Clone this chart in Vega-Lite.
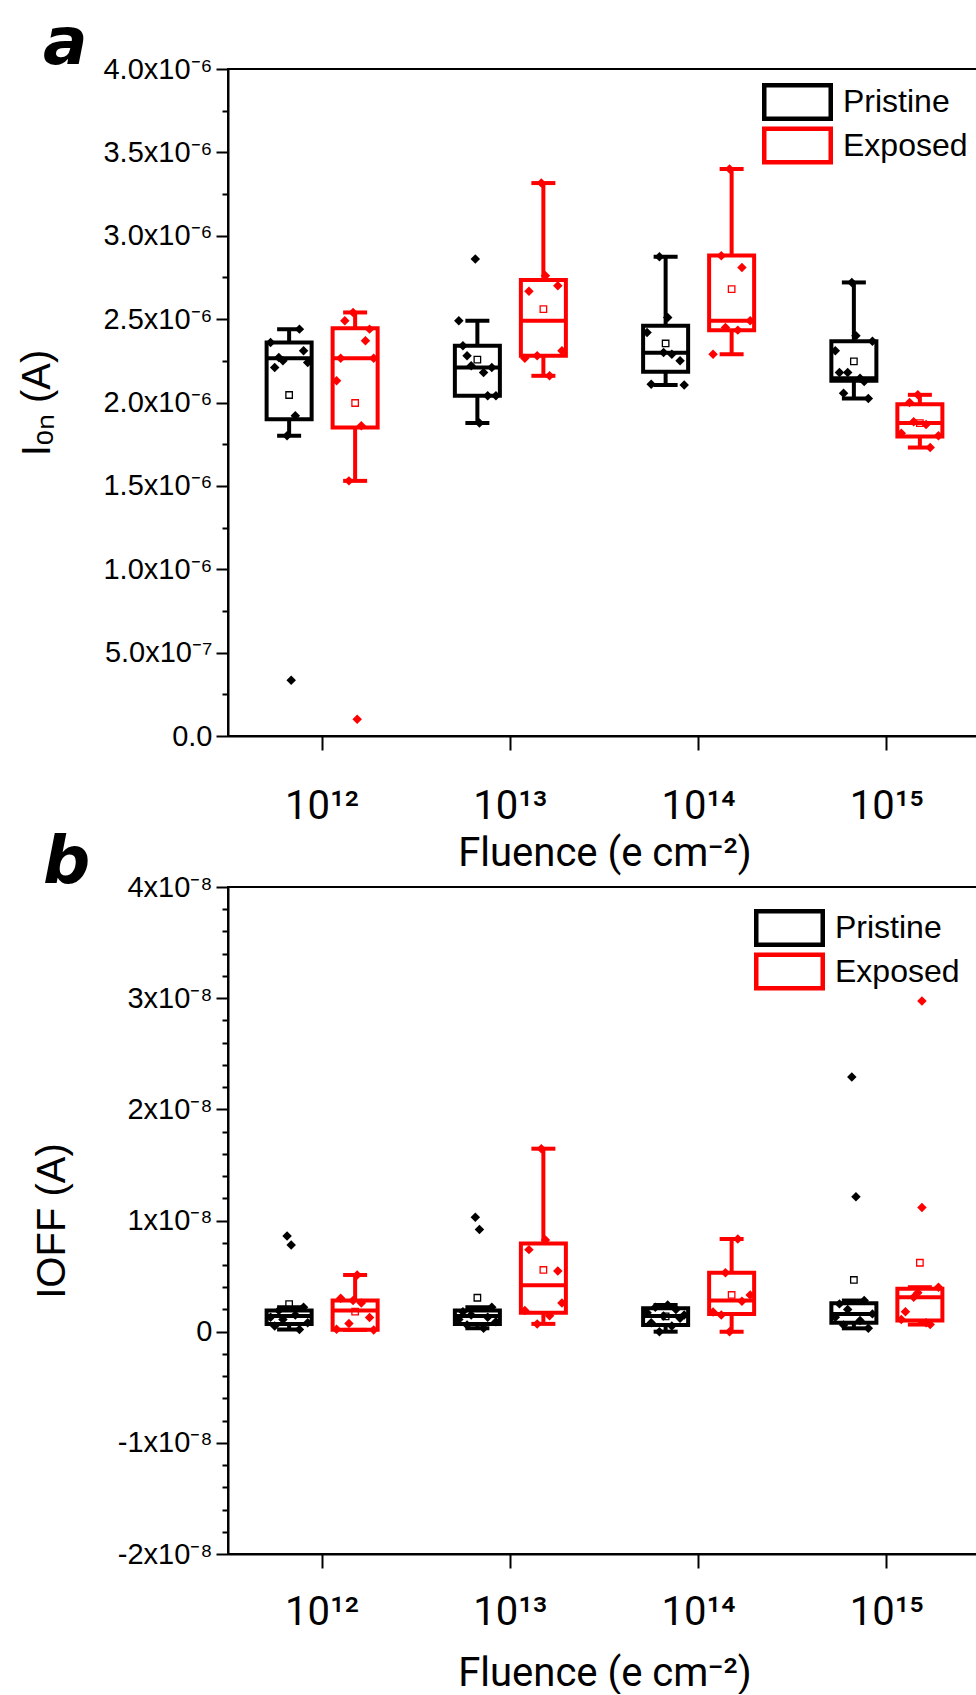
{
  "$schema": "https://vega.github.io/schema/vega-lite/v6.json",
  "background": "white",
  "padding": {"left": 16, "top": 10, "right": 0, "bottom": 0},
  "datasets": {
    "a_box": [
      {"fluence": "10¹²", "group": "Pristine", "lower": 1.80e-6, "q1": 1.90e-6, "median": 2.265e-6, "q3": 2.36e-6, "upper": 2.44e-6, "mean": 2.045e-6},
      {"fluence": "10¹²", "group": "Exposed", "lower": 1.53e-6, "q1": 1.85e-6, "median": 2.265e-6, "q3": 2.445e-6, "upper": 2.54e-6, "mean": 1.997e-6},
      {"fluence": "10¹³", "group": "Pristine", "lower": 1.877e-6, "q1": 2.04e-6, "median": 2.21e-6, "q3": 2.34e-6, "upper": 2.49e-6, "mean": 2.257e-6},
      {"fluence": "10¹³", "group": "Exposed", "lower": 2.16e-6, "q1": 2.28e-6, "median": 2.49e-6, "q3": 2.735e-6, "upper": 3.316e-6, "mean": 2.56e-6},
      {"fluence": "10¹⁴", "group": "Pristine", "lower": 2.105e-6, "q1": 2.185e-6, "median": 2.298e-6, "q3": 2.461e-6, "upper": 2.874e-6, "mean": 2.354e-6},
      {"fluence": "10¹⁴", "group": "Exposed", "lower": 2.29e-6, "q1": 2.434e-6, "median": 2.49e-6, "q3": 2.882e-6, "upper": 3.40e-6, "mean": 2.68e-6},
      {"fluence": "10¹⁵", "group": "Pristine", "lower": 2.024e-6, "q1": 2.13e-6, "median": 2.145e-6, "q3": 2.367e-6, "upper": 2.72e-6, "mean": 2.247e-6},
      {"fluence": "10¹⁵", "group": "Exposed", "lower": 1.73e-6, "q1": 1.796e-6, "median": 1.877e-6, "q3": 1.99e-6, "upper": 2.046e-6, "mean": 1.876e-6}
    ],
    "a_pts": [
      {"fluence": "10¹²", "group": "Pristine", "rep": 1, "value": 2.36e-6},
      {"fluence": "10¹²", "group": "Pristine", "rep": 2, "value": 2.21e-6},
      {"fluence": "10¹²", "group": "Pristine", "rep": 3, "value": 2.27e-6},
      {"fluence": "10¹²", "group": "Pristine", "rep": 4, "value": 2.25e-6},
      {"fluence": "10¹²", "group": "Pristine", "rep": 5, "value": 1.80e-6},
      {"fluence": "10¹²", "group": "Pristine", "rep": 6, "value": 0.335e-6},
      {"fluence": "10¹²", "group": "Pristine", "rep": 7, "value": 1.92e-6},
      {"fluence": "10¹²", "group": "Pristine", "rep": 8, "value": 2.44e-6},
      {"fluence": "10¹²", "group": "Pristine", "rep": 9, "value": 2.31e-6},
      {"fluence": "10¹²", "group": "Pristine", "rep": 10, "value": 2.24e-6},
      {"fluence": "10¹²", "group": "Exposed", "rep": 1, "value": 2.13e-6},
      {"fluence": "10¹²", "group": "Exposed", "rep": 2, "value": 2.265e-6},
      {"fluence": "10¹²", "group": "Exposed", "rep": 3, "value": 2.49e-6},
      {"fluence": "10¹²", "group": "Exposed", "rep": 4, "value": 1.53e-6},
      {"fluence": "10¹²", "group": "Exposed", "rep": 5, "value": 2.54e-6},
      {"fluence": "10¹²", "group": "Exposed", "rep": 6, "value": 0.10e-6},
      {"fluence": "10¹²", "group": "Exposed", "rep": 7, "value": 1.86e-6},
      {"fluence": "10¹²", "group": "Exposed", "rep": 8, "value": 2.37e-6},
      {"fluence": "10¹²", "group": "Exposed", "rep": 9, "value": 2.44e-6},
      {"fluence": "10¹²", "group": "Exposed", "rep": 10, "value": 2.265e-6},
      {"fluence": "10¹³", "group": "Pristine", "rep": 1, "value": 2.49e-6},
      {"fluence": "10¹³", "group": "Pristine", "rep": 2, "value": 2.34e-6},
      {"fluence": "10¹³", "group": "Pristine", "rep": 3, "value": 2.28e-6},
      {"fluence": "10¹³", "group": "Pristine", "rep": 4, "value": 2.22e-6},
      {"fluence": "10¹³", "group": "Pristine", "rep": 5, "value": 2.86e-6},
      {"fluence": "10¹³", "group": "Pristine", "rep": 6, "value": 1.877e-6},
      {"fluence": "10¹³", "group": "Pristine", "rep": 7, "value": 2.18e-6},
      {"fluence": "10¹³", "group": "Pristine", "rep": 8, "value": 2.04e-6},
      {"fluence": "10¹³", "group": "Pristine", "rep": 9, "value": 2.21e-6},
      {"fluence": "10¹³", "group": "Pristine", "rep": 10, "value": 2.04e-6},
      {"fluence": "10¹³", "group": "Exposed", "rep": 1, "value": 2.265e-6},
      {"fluence": "10¹³", "group": "Exposed", "rep": 2, "value": 2.667e-6},
      {"fluence": "10¹³", "group": "Exposed", "rep": 4, "value": 2.28e-6},
      {"fluence": "10¹³", "group": "Exposed", "rep": 5, "value": 3.316e-6},
      {"fluence": "10¹³", "group": "Exposed", "rep": 6, "value": 2.76e-6},
      {"fluence": "10¹³", "group": "Exposed", "rep": 7, "value": 2.16e-6},
      {"fluence": "10¹³", "group": "Exposed", "rep": 9, "value": 2.70e-6},
      {"fluence": "10¹³", "group": "Exposed", "rep": 10, "value": 2.31e-6},
      {"fluence": "10¹⁴", "group": "Pristine", "rep": 1, "value": 2.42e-6},
      {"fluence": "10¹⁴", "group": "Pristine", "rep": 2, "value": 2.11e-6},
      {"fluence": "10¹⁴", "group": "Pristine", "rep": 4, "value": 2.874e-6},
      {"fluence": "10¹⁴", "group": "Pristine", "rep": 5, "value": 2.30e-6},
      {"fluence": "10¹⁴", "group": "Pristine", "rep": 6, "value": 2.51e-6},
      {"fluence": "10¹⁴", "group": "Pristine", "rep": 7, "value": 2.29e-6},
      {"fluence": "10¹⁴", "group": "Pristine", "rep": 9, "value": 2.25e-6},
      {"fluence": "10¹⁴", "group": "Pristine", "rep": 10, "value": 2.105e-6},
      {"fluence": "10¹⁴", "group": "Exposed", "rep": 1, "value": 2.29e-6},
      {"fluence": "10¹⁴", "group": "Exposed", "rep": 3, "value": 2.88e-6},
      {"fluence": "10¹⁴", "group": "Exposed", "rep": 4, "value": 2.45e-6},
      {"fluence": "10¹⁴", "group": "Exposed", "rep": 5, "value": 3.40e-6},
      {"fluence": "10¹⁴", "group": "Exposed", "rep": 7, "value": 2.434e-6},
      {"fluence": "10¹⁴", "group": "Exposed", "rep": 8, "value": 2.81e-6},
      {"fluence": "10¹⁴", "group": "Exposed", "rep": 10, "value": 2.49e-6},
      {"fluence": "10¹⁵", "group": "Pristine", "rep": 1, "value": 2.31e-6},
      {"fluence": "10¹⁵", "group": "Pristine", "rep": 2, "value": 2.18e-6},
      {"fluence": "10¹⁵", "group": "Pristine", "rep": 3, "value": 2.056e-6},
      {"fluence": "10¹⁵", "group": "Pristine", "rep": 4, "value": 2.18e-6},
      {"fluence": "10¹⁵", "group": "Pristine", "rep": 5, "value": 2.72e-6},
      {"fluence": "10¹⁵", "group": "Pristine", "rep": 6, "value": 2.40e-6},
      {"fluence": "10¹⁵", "group": "Pristine", "rep": 7, "value": 2.145e-6},
      {"fluence": "10¹⁵", "group": "Pristine", "rep": 8, "value": 2.126e-6},
      {"fluence": "10¹⁵", "group": "Pristine", "rep": 9, "value": 2.024e-6},
      {"fluence": "10¹⁵", "group": "Pristine", "rep": 10, "value": 2.367e-6},
      {"fluence": "10¹⁵", "group": "Exposed", "rep": 1, "value": 1.815e-6},
      {"fluence": "10¹⁵", "group": "Exposed", "rep": 3, "value": 2.00e-6},
      {"fluence": "10¹⁵", "group": "Exposed", "rep": 4, "value": 1.885e-6},
      {"fluence": "10¹⁵", "group": "Exposed", "rep": 5, "value": 2.046e-6},
      {"fluence": "10¹⁵", "group": "Exposed", "rep": 7, "value": 1.868e-6},
      {"fluence": "10¹⁵", "group": "Exposed", "rep": 8, "value": 1.73e-6},
      {"fluence": "10¹⁵", "group": "Exposed", "rep": 10, "value": 1.80e-6}
    ],
    "b_box": [
      {"fluence": "10¹²", "group": "Pristine", "lower": 0.02e-8, "q1": 0.07e-8, "median": 0.14e-8, "q3": 0.19e-8, "upper": 0.22e-8, "mean": 0.247e-8},
      {"fluence": "10¹²", "group": "Exposed", "lower": 0.016e-8, "q1": 0.018e-8, "median": 0.19e-8, "q3": 0.28e-8, "upper": 0.51e-8, "mean": 0.18e-8},
      {"fluence": "10¹³", "group": "Pristine", "lower": 0.03e-8, "q1": 0.07e-8, "median": 0.14e-8, "q3": 0.19e-8, "upper": 0.22e-8, "mean": 0.305e-8},
      {"fluence": "10¹³", "group": "Exposed", "lower": 0.07e-8, "q1": 0.17e-8, "median": 0.417e-8, "q3": 0.792e-8, "upper": 1.646e-8, "mean": 0.555e-8},
      {"fluence": "10¹⁴", "group": "Pristine", "lower": 0.0, "q1": 0.06e-8, "median": 0.14e-8, "q3": 0.21e-8, "upper": 0.24e-8, "mean": 0.137e-8},
      {"fluence": "10¹⁴", "group": "Exposed", "lower": 0.0, "q1": 0.16e-8, "median": 0.28e-8, "q3": 0.53e-8, "upper": 0.834e-8, "mean": 0.33e-8},
      {"fluence": "10¹⁵", "group": "Pristine", "lower": 0.03e-8, "q1": 0.08e-8, "median": 0.16e-8, "q3": 0.255e-8, "upper": 0.28e-8, "mean": 0.465e-8},
      {"fluence": "10¹⁵", "group": "Exposed", "lower": 0.064e-8, "q1": 0.10e-8, "median": 0.31e-8, "q3": 0.385e-8, "upper": 0.40e-8, "mean": 0.62e-8}
    ],
    "b_pts": [
      {"fluence": "10¹²", "group": "Pristine", "rep": 1, "value": 0.13e-8},
      {"fluence": "10¹²", "group": "Pristine", "rep": 2, "value": 0.05e-8},
      {"fluence": "10¹²", "group": "Pristine", "rep": 3, "value": 0.19e-8},
      {"fluence": "10¹²", "group": "Pristine", "rep": 4, "value": 0.11e-8},
      {"fluence": "10¹²", "group": "Pristine", "rep": 5, "value": 0.86e-8},
      {"fluence": "10¹²", "group": "Pristine", "rep": 6, "value": 0.78e-8},
      {"fluence": "10¹²", "group": "Pristine", "rep": 7, "value": 0.15e-8},
      {"fluence": "10¹²", "group": "Pristine", "rep": 8, "value": 0.02e-8},
      {"fluence": "10¹²", "group": "Pristine", "rep": 9, "value": 0.22e-8},
      {"fluence": "10¹²", "group": "Pristine", "rep": 10, "value": 0.08e-8},
      {"fluence": "10¹²", "group": "Exposed", "rep": 1, "value": 0.022e-8},
      {"fluence": "10¹²", "group": "Exposed", "rep": 2, "value": 0.30e-8},
      {"fluence": "10¹²", "group": "Exposed", "rep": 4, "value": 0.074e-8},
      {"fluence": "10¹²", "group": "Exposed", "rep": 5, "value": 0.28e-8},
      {"fluence": "10¹²", "group": "Exposed", "rep": 6, "value": 0.51e-8},
      {"fluence": "10¹²", "group": "Exposed", "rep": 7, "value": 0.257e-8},
      {"fluence": "10¹²", "group": "Exposed", "rep": 9, "value": 0.128e-8},
      {"fluence": "10¹²", "group": "Exposed", "rep": 10, "value": 0.016e-8},
      {"fluence": "10¹³", "group": "Pristine", "rep": 1, "value": 0.11e-8},
      {"fluence": "10¹³", "group": "Pristine", "rep": 2, "value": 0.18e-8},
      {"fluence": "10¹³", "group": "Pristine", "rep": 3, "value": 0.06e-8},
      {"fluence": "10¹³", "group": "Pristine", "rep": 4, "value": 0.15e-8},
      {"fluence": "10¹³", "group": "Pristine", "rep": 5, "value": 1.03e-8},
      {"fluence": "10¹³", "group": "Pristine", "rep": 6, "value": 0.92e-8},
      {"fluence": "10¹³", "group": "Pristine", "rep": 7, "value": 0.03e-8},
      {"fluence": "10¹³", "group": "Pristine", "rep": 8, "value": 0.13e-8},
      {"fluence": "10¹³", "group": "Pristine", "rep": 9, "value": 0.22e-8},
      {"fluence": "10¹³", "group": "Pristine", "rep": 10, "value": 0.09e-8},
      {"fluence": "10¹³", "group": "Exposed", "rep": 1, "value": 0.19e-8},
      {"fluence": "10¹³", "group": "Exposed", "rep": 2, "value": 0.738e-8},
      {"fluence": "10¹³", "group": "Exposed", "rep": 4, "value": 0.07e-8},
      {"fluence": "10¹³", "group": "Exposed", "rep": 5, "value": 1.646e-8},
      {"fluence": "10¹³", "group": "Exposed", "rep": 6, "value": 0.825e-8},
      {"fluence": "10¹³", "group": "Exposed", "rep": 7, "value": 0.144e-8},
      {"fluence": "10¹³", "group": "Exposed", "rep": 9, "value": 0.545e-8},
      {"fluence": "10¹³", "group": "Exposed", "rep": 10, "value": 0.257e-8},
      {"fluence": "10¹⁴", "group": "Pristine", "rep": 1, "value": 0.17e-8},
      {"fluence": "10¹⁴", "group": "Pristine", "rep": 2, "value": 0.08e-8},
      {"fluence": "10¹⁴", "group": "Pristine", "rep": 3, "value": 0.22e-8},
      {"fluence": "10¹⁴", "group": "Pristine", "rep": 4, "value": 0.0},
      {"fluence": "10¹⁴", "group": "Pristine", "rep": 5, "value": 0.14e-8},
      {"fluence": "10¹⁴", "group": "Pristine", "rep": 6, "value": 0.24e-8},
      {"fluence": "10¹⁴", "group": "Pristine", "rep": 7, "value": 0.05e-8},
      {"fluence": "10¹⁴", "group": "Pristine", "rep": 8, "value": 0.20e-8},
      {"fluence": "10¹⁴", "group": "Pristine", "rep": 9, "value": 0.12e-8},
      {"fluence": "10¹⁴", "group": "Pristine", "rep": 10, "value": 0.15e-8},
      {"fluence": "10¹⁴", "group": "Exposed", "rep": 1, "value": 0.176e-8},
      {"fluence": "10¹⁴", "group": "Exposed", "rep": 3, "value": 0.15e-8},
      {"fluence": "10¹⁴", "group": "Exposed", "rep": 4, "value": 0.53e-8},
      {"fluence": "10¹⁴", "group": "Exposed", "rep": 5, "value": 0.0},
      {"fluence": "10¹⁴", "group": "Exposed", "rep": 7, "value": 0.834e-8},
      {"fluence": "10¹⁴", "group": "Exposed", "rep": 8, "value": 0.273e-8},
      {"fluence": "10¹⁴", "group": "Exposed", "rep": 10, "value": 0.33e-8},
      {"fluence": "10¹⁵", "group": "Pristine", "rep": 1, "value": 0.13e-8},
      {"fluence": "10¹⁵", "group": "Pristine", "rep": 2, "value": 0.25e-8},
      {"fluence": "10¹⁵", "group": "Pristine", "rep": 3, "value": 0.06e-8},
      {"fluence": "10¹⁵", "group": "Pristine", "rep": 4, "value": 0.20e-8},
      {"fluence": "10¹⁵", "group": "Pristine", "rep": 5, "value": 2.29e-8},
      {"fluence": "10¹⁵", "group": "Pristine", "rep": 6, "value": 1.213e-8},
      {"fluence": "10¹⁵", "group": "Pristine", "rep": 7, "value": 0.10e-8},
      {"fluence": "10¹⁵", "group": "Pristine", "rep": 8, "value": 0.28e-8},
      {"fluence": "10¹⁵", "group": "Pristine", "rep": 9, "value": 0.03e-8},
      {"fluence": "10¹⁵", "group": "Pristine", "rep": 10, "value": 0.16e-8},
      {"fluence": "10¹⁵", "group": "Exposed", "rep": 1, "value": 0.11e-8},
      {"fluence": "10¹⁵", "group": "Exposed", "rep": 2, "value": 0.18e-8},
      {"fluence": "10¹⁵", "group": "Exposed", "rep": 4, "value": 0.31e-8},
      {"fluence": "10¹⁵", "group": "Exposed", "rep": 5, "value": 0.35e-8},
      {"fluence": "10¹⁵", "group": "Exposed", "rep": 6, "value": 2.974e-8},
      {"fluence": "10¹⁵", "group": "Exposed", "rep": 6, "value": 1.116e-8},
      {"fluence": "10¹⁵", "group": "Exposed", "rep": 7, "value": 0.08e-8},
      {"fluence": "10¹⁵", "group": "Exposed", "rep": 8, "value": 0.064e-8},
      {"fluence": "10¹⁵", "group": "Exposed", "rep": 10, "value": 0.40e-8}
    ]
  },
  "vconcat": [
    {
      "width": 753,
      "height": 667,
      "title": {"text": "a", "anchor": "start", "frame": "group", "dx": -185, "offset": -23, "font": "DejaVu Sans", "fontSize": 66, "fontWeight": "bold", "fontStyle": "italic", "color": "#000"},
      "layer": [
        {
          "data": {"name": "a_box"},
          "encoding": {
            "x": {"field": "fluence", "type": "nominal", "sort": ["10¹²", "10¹³", "10¹⁴", "10¹⁵"], "scale": {"domain": ["10¹²", "10¹³", "10¹⁴", "10¹⁵"], "paddingInner": 0, "paddingOuter": 0},
              "axis": {"title": "Fluence (e cm⁻²)", "labelAngle": 0, "bandPosition": 0.5, "labelFont": "Roboto", "labelFontSize": 40, "titleFont": "Roboto", "titleFontSize": 40, "titleFontWeight": "normal", "tickSize": 14, "tickWidth": 2, "domainWidth": 2, "labelPadding": 36, "titlePadding": 7}},
            "xOffset": {"field": "group", "type": "nominal", "sort": ["Pristine", "Exposed"], "scale": {"domain": ["Pristine", "Exposed"], "paddingInner": 0.318, "paddingOuter": 0.585}},
            "color": {"field": "group", "type": "nominal", "sort": ["Pristine", "Exposed"], "scale": {"domain": ["Pristine", "Exposed"], "range": ["#000000", "#ff0000"]},
              "legend": {"title": null, "orient": "top-right", "offset": 13, "padding": 0, "labelFont": "Liberation Sans", "labelFontSize": 32, "labelColor": "#000", "labelOffset": 10, "symbolType": "M-1,-0.535H1V0.535H-1Z M-0.873,-0.408V0.408H0.873V-0.408Z", "symbolSize": 5041, "symbolStrokeWidth": 0, "clipHeight": 40, "rowPadding": 3.5}}
          },
          "layer": [
            {"mark": {"type": "rule", "strokeWidth": 4}, "encoding": {
              "y": {"field": "lower", "type": "quantitative", "title": "Iₒₙ (A)", "scale": {"domain": [0, 4e-6], "nice": false, "zero": false},
                "axis": {"values": [0, 5e-7, 1e-6, 1.5e-6, 2e-6, 2.5e-6, 3e-6, 3.5e-6, 4e-6], "labelExpr": "datum.value == 0 ? '0.0' : (datum.value < 9e-7 ? format(datum.value*1e7, '.1f') + 'x10⁻⁷' : format(datum.value*1e6, '.1f') + 'x10⁻⁶')", "labelFontSize": 29, "tickSize": 12, "tickWidth": 2, "domainWidth": 2, "labelPadding": 4, "titleFontSize": 40, "titlePadding": 45, "grid": false}},
              "y2": {"field": "q1"}}},
            {"mark": {"type": "rule", "strokeWidth": 4}, "encoding": {"y": {"field": "q3", "type": "quantitative", "title": "Iₒₙ (A)"}, "y2": {"field": "upper"}}},
            {"mark": {"type": "tick", "thickness": 4, "size": 24, "opacity": 1}, "encoding": {"y": {"field": "upper", "type": "quantitative", "title": "Iₒₙ (A)"}}},
            {"mark": {"type": "tick", "thickness": 4, "size": 24, "opacity": 1}, "encoding": {"y": {"field": "lower", "type": "quantitative", "title": "Iₒₙ (A)"}}},
            {"mark": {"type": "bar", "filled": false, "strokeWidth": 4}, "encoding": {"y": {"field": "q1", "type": "quantitative", "title": "Iₒₙ (A)"}, "y2": {"field": "q3"}}},
            {"mark": {"type": "tick", "thickness": 4, "size": 45, "opacity": 1}, "encoding": {"y": {"field": "median", "type": "quantitative", "title": "Iₒₙ (A)"}}},
            {"mark": {"type": "point", "shape": "square", "filled": false, "size": 42, "strokeWidth": 1.3, "opacity": 1}, "encoding": {"y": {"field": "mean", "type": "quantitative", "title": "Iₒₙ (A)"}}}
          ]
        },
        {
          "data": {"name": "a_pts"},
          "transform": [{"calculate": "datum.group == 'Pristine' ? datum.rep : datum.rep + 16", "as": "slot"}],
          "mark": {"type": "point", "shape": "diamond", "filled": true, "size": 90, "opacity": 1},
          "encoding": {
            "x": {"field": "fluence", "type": "nominal", "sort": ["10¹²", "10¹³", "10¹⁴", "10¹⁵"], "scale": {"domain": ["10¹²", "10¹³", "10¹⁴", "10¹⁵"], "paddingInner": 0, "paddingOuter": 0},
              "axis": {"title": "Fluence (e cm⁻²)", "labelAngle": 0, "bandPosition": 0.5, "labelFont": "Roboto", "labelFontSize": 40, "titleFont": "Roboto", "titleFontSize": 40, "titleFontWeight": "normal", "tickSize": 14, "tickWidth": 2, "domainWidth": 2, "labelPadding": 36, "titlePadding": 7}},
            "xOffset": {"field": "slot", "type": "ordinal", "scale": {"type": "band", "domain": [-8, -7, -6, -5, -4, -3, -2, -1, 0, 1, 2, 3, 4, 5, 6, 7, 8, 9, 10, 11, 12, 13, 14, 15, 16, 17, 18, 19, 20, 21, 22, 23, 24, 25, 26, 27, 28, 29, 30, 31, 32, 33, 34, 35], "paddingInner": 0, "paddingOuter": 0.82}},
            "y": {"field": "value", "type": "quantitative", "scale": {"domain": [0, 4e-6], "nice": false, "zero": false},
              "axis": {"orient": "left", "title": null, "labels": false, "domain": false, "grid": false, "tickSize": 6, "tickWidth": 2, "values": [2.5e-7, 7.5e-7, 1.25e-6, 1.75e-6, 2.25e-6, 2.75e-6, 3.25e-6, 3.75e-6]}},
            "color": {"field": "group", "type": "nominal", "sort": ["Pristine", "Exposed"], "scale": {"domain": ["Pristine", "Exposed"], "range": ["#000000", "#ff0000"]},
              "legend": {"title": null, "orient": "top-right", "offset": 13, "padding": 0, "labelFont": "Liberation Sans", "labelFontSize": 32, "labelColor": "#000", "labelOffset": 10, "symbolType": "M-1,-0.535H1V0.535H-1Z M-0.873,-0.408V0.408H0.873V-0.408Z", "symbolSize": 5041, "symbolStrokeWidth": 0, "clipHeight": 40, "rowPadding": 3.5}}
          }
        }
      ],
      "resolve": {"scale": {"xOffset": "independent"}, "axis": {"y": "independent"}}
    },
    {
      "width": 753,
      "height": 667,
      "title": {"text": "b", "anchor": "start", "frame": "group", "dx": -185, "offset": -24, "font": "DejaVu Sans", "fontSize": 66, "fontWeight": "bold", "fontStyle": "italic", "color": "#000"},
      "layer": [
        {
          "data": {"name": "b_box"},
          "encoding": {
            "x": {"field": "fluence", "type": "nominal", "sort": ["10¹²", "10¹³", "10¹⁴", "10¹⁵"], "scale": {"domain": ["10¹²", "10¹³", "10¹⁴", "10¹⁵"], "paddingInner": 0, "paddingOuter": 0},
              "axis": {"title": "Fluence (e cm⁻²)", "labelAngle": 0, "bandPosition": 0.5, "labelFont": "Roboto", "labelFontSize": 40, "titleFont": "Roboto", "titleFontSize": 40, "titleFontWeight": "normal", "tickSize": 14, "tickWidth": 2, "domainWidth": 2, "labelPadding": 24, "titlePadding": 21}},
            "xOffset": {"field": "group", "type": "nominal", "sort": ["Pristine", "Exposed"], "scale": {"domain": ["Pristine", "Exposed"], "paddingInner": 0.318, "paddingOuter": 0.585}},
            "color": {"field": "group", "type": "nominal", "sort": ["Pristine", "Exposed"], "scale": {"domain": ["Pristine", "Exposed"], "range": ["#000000", "#ff0000"]},
              "legend": {"title": null, "orient": "top-right", "offset": 21, "padding": 0, "labelFont": "Liberation Sans", "labelFontSize": 32, "labelColor": "#000", "labelOffset": 10, "symbolType": "M-1,-0.535H1V0.535H-1Z M-0.873,-0.408V0.408H0.873V-0.408Z", "symbolSize": 5041, "symbolStrokeWidth": 0, "clipHeight": 40, "rowPadding": 3.5}}
          },
          "layer": [
            {"mark": {"type": "rule", "strokeWidth": 4}, "encoding": {
              "y": {"field": "lower", "type": "quantitative", "title": "IOFF (A)", "scale": {"domain": [-2e-8, 4e-8], "nice": false, "zero": false},
                "axis": {"values": [-2e-8, -1e-8, 0, 1e-8, 2e-8, 3e-8, 4e-8], "labelExpr": "datum.value == 0 ? '0' : (round(datum.value*1e8) + 'x10⁻⁸')", "labelFontSize": 29, "tickSize": 12, "tickWidth": 2, "domainWidth": 2, "labelPadding": 4, "titleFontSize": 40, "titlePadding": 45, "grid": false}},
              "y2": {"field": "q1"}}},
            {"mark": {"type": "rule", "strokeWidth": 4}, "encoding": {"y": {"field": "q3", "type": "quantitative", "title": "IOFF (A)"}, "y2": {"field": "upper"}}},
            {"mark": {"type": "tick", "thickness": 4, "size": 24, "opacity": 1}, "encoding": {"y": {"field": "upper", "type": "quantitative", "title": "IOFF (A)"}}},
            {"mark": {"type": "tick", "thickness": 4, "size": 24, "opacity": 1}, "encoding": {"y": {"field": "lower", "type": "quantitative", "title": "IOFF (A)"}}},
            {"mark": {"type": "bar", "filled": false, "strokeWidth": 4}, "encoding": {"y": {"field": "q1", "type": "quantitative", "title": "IOFF (A)"}, "y2": {"field": "q3"}}},
            {"mark": {"type": "tick", "thickness": 4, "size": 45, "opacity": 1}, "encoding": {"y": {"field": "median", "type": "quantitative", "title": "IOFF (A)"}}},
            {"mark": {"type": "point", "shape": "square", "filled": false, "size": 42, "strokeWidth": 1.3, "opacity": 1}, "encoding": {"y": {"field": "mean", "type": "quantitative", "title": "IOFF (A)"}}}
          ]
        },
        {
          "data": {"name": "b_pts"},
          "transform": [{"calculate": "datum.group == 'Pristine' ? datum.rep : datum.rep + 16", "as": "slot"}],
          "mark": {"type": "point", "shape": "diamond", "filled": true, "size": 90, "opacity": 1},
          "encoding": {
            "x": {"field": "fluence", "type": "nominal", "sort": ["10¹²", "10¹³", "10¹⁴", "10¹⁵"], "scale": {"domain": ["10¹²", "10¹³", "10¹⁴", "10¹⁵"], "paddingInner": 0, "paddingOuter": 0},
              "axis": {"title": "Fluence (e cm⁻²)", "labelAngle": 0, "bandPosition": 0.5, "labelFont": "Roboto", "labelFontSize": 40, "titleFont": "Roboto", "titleFontSize": 40, "titleFontWeight": "normal", "tickSize": 14, "tickWidth": 2, "domainWidth": 2, "labelPadding": 24, "titlePadding": 21}},
            "xOffset": {"field": "slot", "type": "ordinal", "scale": {"type": "band", "domain": [-8, -7, -6, -5, -4, -3, -2, -1, 0, 1, 2, 3, 4, 5, 6, 7, 8, 9, 10, 11, 12, 13, 14, 15, 16, 17, 18, 19, 20, 21, 22, 23, 24, 25, 26, 27, 28, 29, 30, 31, 32, 33, 34, 35], "paddingInner": 0, "paddingOuter": 0.82}},
            "y": {"field": "value", "type": "quantitative", "scale": {"domain": [-2e-8, 4e-8], "nice": false, "zero": false},
              "axis": {"orient": "left", "title": null, "labels": false, "domain": false, "grid": false, "tickSize": 6, "tickWidth": 2, "values": [-1.8e-8, -1.6e-8, -1.4e-8, -1.2e-8, -8e-9, -6e-9, -4e-9, -2e-9, 2e-9, 4e-9, 6e-9, 8e-9, 1.2e-8, 1.4e-8, 1.6e-8, 1.8e-8, 2.2e-8, 2.4e-8, 2.6e-8, 2.8e-8, 3.2e-8, 3.4e-8, 3.6e-8, 3.8e-8]}},
            "color": {"field": "group", "type": "nominal", "sort": ["Pristine", "Exposed"], "scale": {"domain": ["Pristine", "Exposed"], "range": ["#000000", "#ff0000"]},
              "legend": {"title": null, "orient": "top-right", "offset": 21, "padding": 0, "labelFont": "Liberation Sans", "labelFontSize": 32, "labelColor": "#000", "labelOffset": 10, "symbolType": "M-1,-0.535H1V0.535H-1Z M-0.873,-0.408V0.408H0.873V-0.408Z", "symbolSize": 5041, "symbolStrokeWidth": 0, "clipHeight": 40, "rowPadding": 3.5}}
          }
        }
      ],
      "resolve": {"scale": {"xOffset": "independent"}, "axis": {"y": "independent"}}
    }
  ],
  "resolve": {"scale": {"color": "independent"}, "legend": {"color": "independent"}},
  "spacing": 151,
  "bounds": "flush",
  "config": {
    "font": "Liberation Sans",
    "view": {"stroke": "#000", "strokeWidth": 2},
    "axis": {"labelFont": "Liberation Sans", "titleFont": "Liberation Sans", "titleFontWeight": "normal", "grid": false, "domainColor": "#000", "tickColor": "#000", "labelColor": "#000", "titleColor": "#000"}
  }
}
